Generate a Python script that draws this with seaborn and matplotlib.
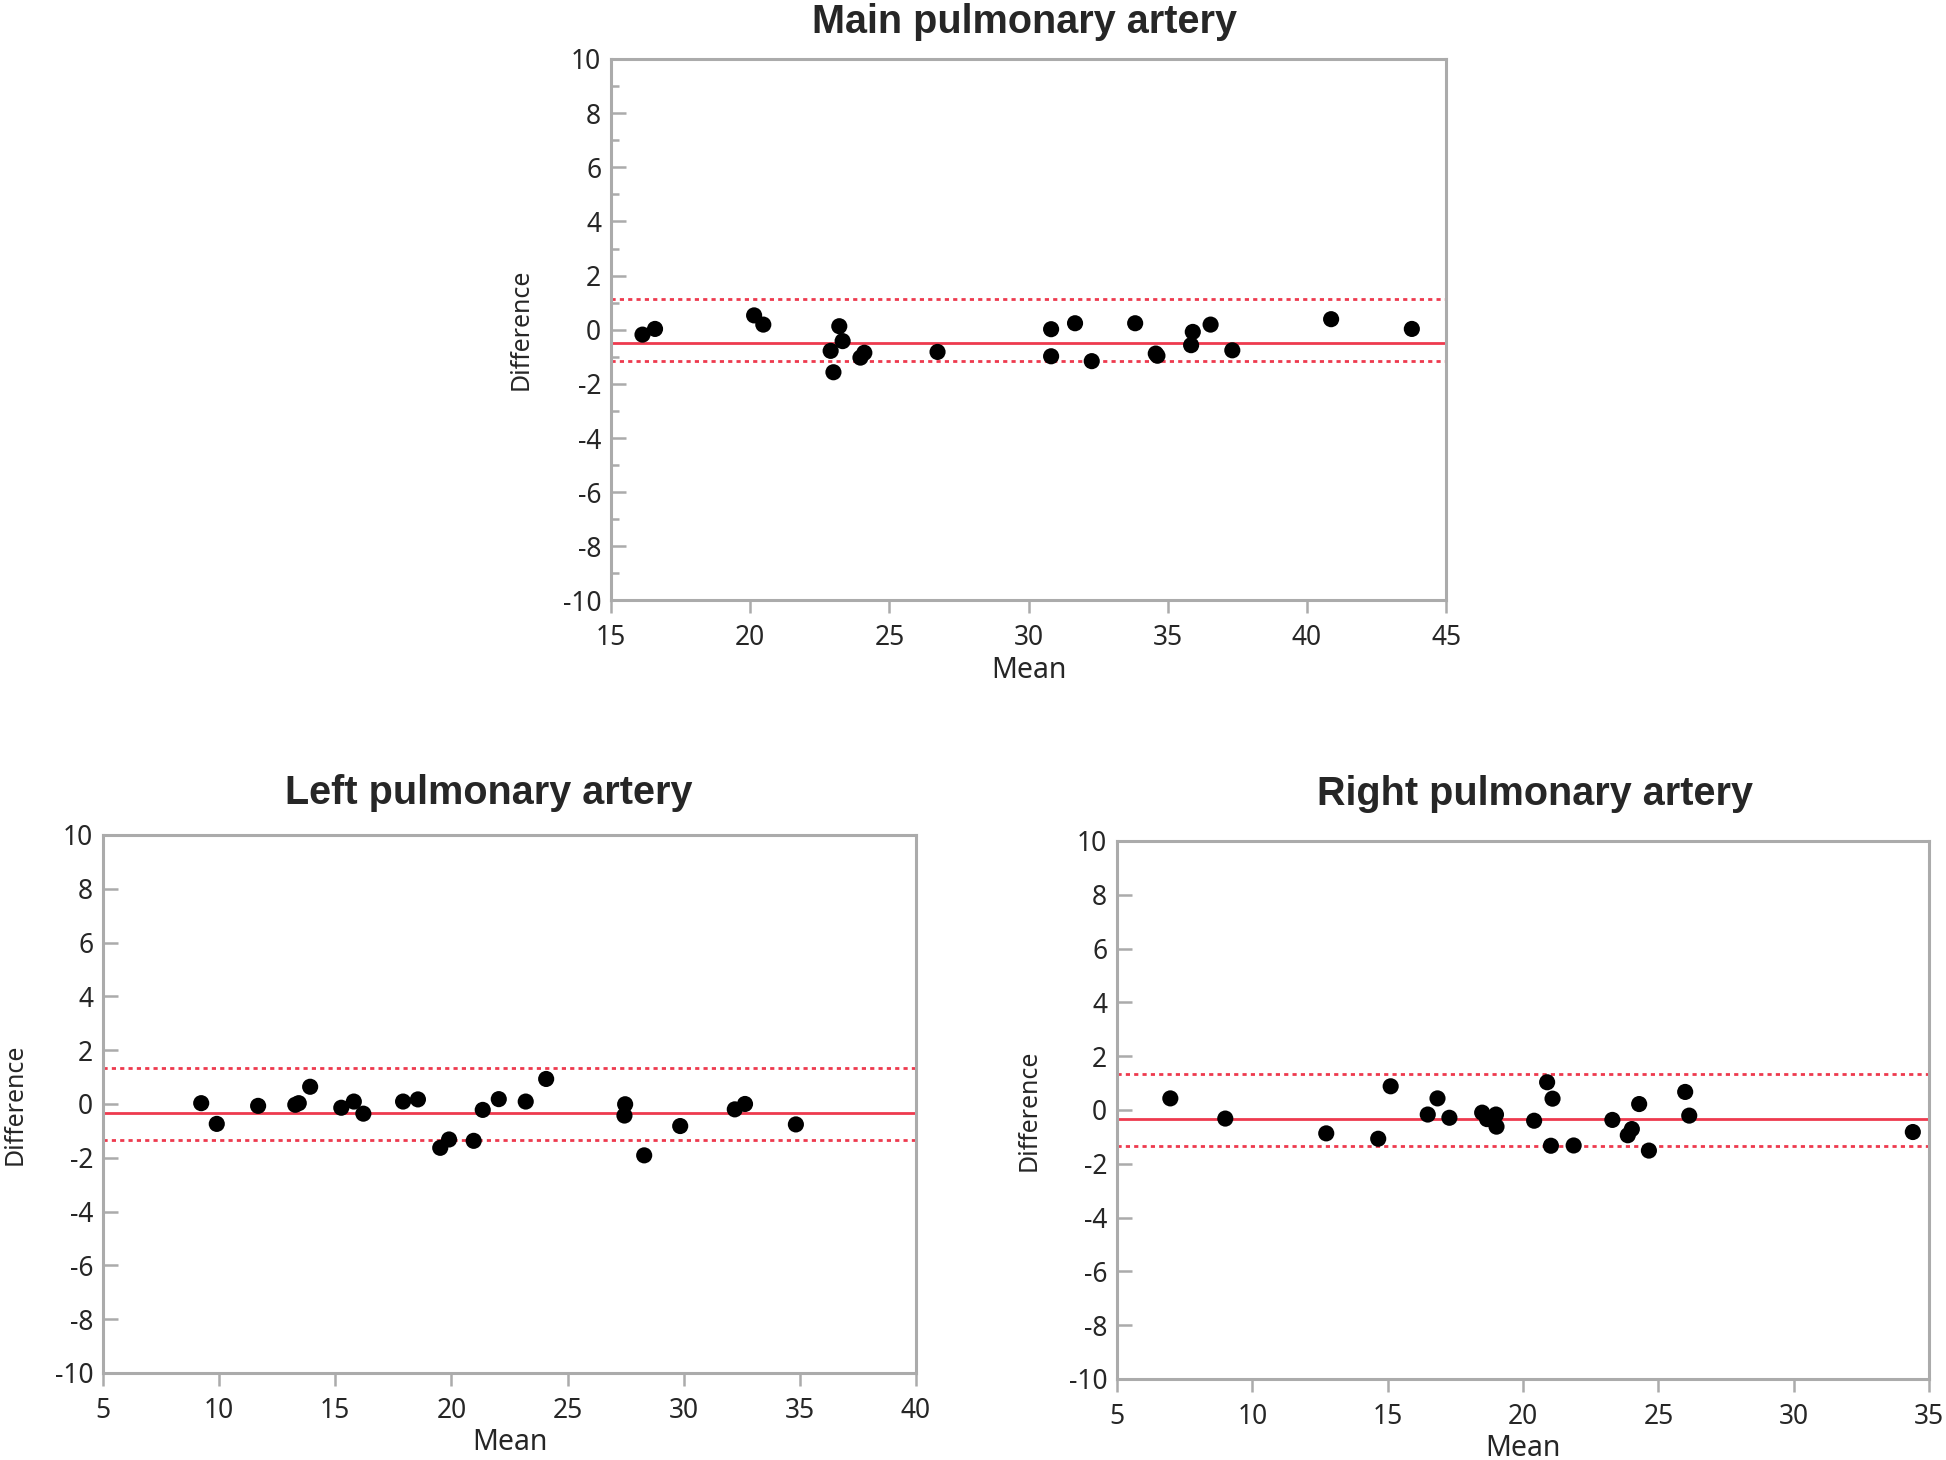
import pandas as pd
import seaborn as sns
import matplotlib.pyplot as plt
from matplotlib.ticker import MultipleLocator

# Main pulmonary artery
main_mean = [16.13, 16.58, 20.14, 20.47, 22.89, 22.99, 23.2, 23.32, 23.96, 24.1,
             26.73, 30.81, 30.81, 31.67, 32.27, 33.83, 34.57, 34.63, 35.84, 35.9,
             36.54, 37.32, 40.87, 43.77]
main_diff = [-0.18, 0.03, 0.53, 0.19, -0.78, -1.57, 0.13, -0.42, -1.03, -0.85,
             -0.82, 0.02, -0.98, 0.24, -1.16, 0.24, -0.88, -0.96, -0.57, -0.08,
             0.19, -0.76, 0.39, 0.03]
main_lines = [1.15, -0.49, -1.15]

# Left pulmonary artery
left_mean = [9.23, 9.9, 11.68, 13.28, 13.43, 13.92, 15.26, 15.8, 16.21, 17.92,
             18.56, 19.52, 19.9, 20.96, 21.35, 22.04, 23.2, 24.08, 27.48, 27.45,
             28.3, 29.85, 32.2, 32.64, 34.83]
left_diff = [0.03, -0.74, -0.07, -0.03, 0.03, 0.64, -0.14, 0.09, -0.36, 0.09,
             0.17, -1.63, -1.32, -1.37, -0.22, 0.18, 0.09, 0.93, -0.01, -0.43,
             -1.91, -0.82, -0.2, 0.0, -0.76]
left_lines = [1.33, -0.34, -1.33]

# Right pulmonary artery
right_mean = [6.97, 9.0, 12.73, 14.65, 15.11, 16.48, 16.84, 17.28, 18.49, 18.67,
              19.0, 19.02, 20.41, 20.89, 21.09, 21.03, 21.87, 23.3, 23.87, 24.02,
              24.29, 24.65, 25.99, 26.14, 34.4]
right_diff = [0.43, -0.32, -0.87, -1.07, 0.88, -0.17, 0.43, -0.29, -0.1, -0.34,
              -0.17, -0.62, -0.4, 1.03, 0.42, -1.33, -1.32, -0.37, -0.94, -0.71,
              0.22, -1.51, 0.67, -0.21, -0.82]
right_lines = [1.34, -0.33, -1.34]

GRAY = '#ababab'
RED = '#ee3a4e'

sns.set_style("white")
plt.rcParams['font.family'] = ['Noto Sans', 'DejaVu Sans']
plt.rcParams['axes.unicode_minus'] = False


def draw_panel(ax, means, diffs, lines, xlim, title, title_x, title_pad, minor):
    df = pd.DataFrame({"Mean": means, "Difference": diffs})
    ax.axhline(lines[0], color=RED, lw=2.0, ls=(0, (1.5, 1.5)), zorder=1)
    ax.axhline(lines[1], color=RED, lw=2.0, zorder=1)
    ax.axhline(lines[2], color=RED, lw=2.0, ls=(0, (1.5, 1.5)), zorder=1)
    sns.scatterplot(data=df, x="Mean", y="Difference", ax=ax, color='black',
                    s=135, edgecolor='none', zorder=3, clip_on=False)
    ax.set_xlim(*xlim)
    ax.set_ylim(-10, 10)
    ax.xaxis.set_major_locator(MultipleLocator(5))
    ax.yaxis.set_major_locator(MultipleLocator(2))
    for sp in ax.spines.values():
        sp.set_color(GRAY)
        sp.set_linewidth(2.2)
        sp.set_visible(True)
    ax.tick_params(axis='x', direction='out', length=9, width=1.8, color=GRAY,
                   labelsize=19, pad=8, bottom=True)
    ax.tick_params(axis='y', which='major', direction='in', length=11, width=1.8,
                   color=GRAY, labelsize=19, pad=7, left=True)
    if minor:
        ax.yaxis.set_minor_locator(MultipleLocator(1))
        ax.tick_params(axis='y', which='minor', direction='in', length=5.5,
                       width=1.8, color=GRAY, left=True)
    ax.set_xlabel("Mean", fontsize=20.5)
    ax.set_ylabel("Difference", fontsize=18)
    ax.xaxis.set_label_coords(0.5, -0.103)
    ax.yaxis.set_label_coords(-0.093, 0.5)
    ax.set_title(title, family=['Liberation Sans', 'DejaVu Sans'],
                 fontweight='bold', fontsize=28.5, x=title_x, pad=title_pad)


fig = plt.figure(figsize=(19.46, 14.6), dpi=100)
ax_main = fig.add_axes([0.3140, 0.5887, 0.4291, 0.3709])
ax_left = fig.add_axes([0.0529, 0.0596, 0.4178, 0.3685])
ax_right = fig.add_axes([0.5740, 0.0555, 0.4173, 0.3685])

draw_panel(ax_main, main_mean, main_diff, main_lines, (15, 45),
           "Main pulmonary artery", 0.495, 19, True)
draw_panel(ax_left, left_mean, left_diff, left_lines, (5, 40),
           "Left pulmonary artery", 0.474, 22, False)
draw_panel(ax_right, right_mean, right_diff, right_lines, (5, 35),
           "Right pulmonary artery", 0.515, 26, False)

fig.savefig("out.png", dpi=100)
